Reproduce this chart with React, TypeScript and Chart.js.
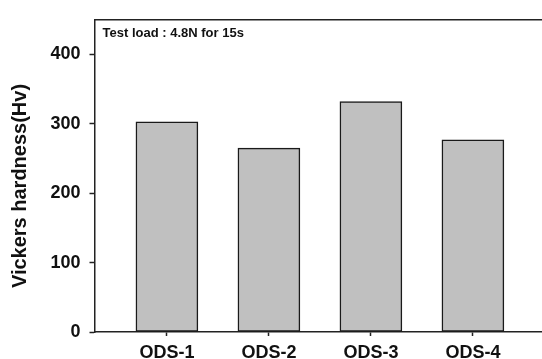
import React, { useEffect, useRef } from "react";
import { Chart, registerables } from "chart.js";

Chart.register(...registerables);

const categories = ["ODS-1", "ODS-2", "ODS-3", "ODS-4"];
const hardness = [303, 265, 332, 277];
const yTicks = [0, 100, 200, 300, 400];
const yTitle = "Vickers hardness(Hv)";
const note = "Test load : 4.8N for 15s";

const FONT = "'Liberation Sans', Arial, sans-serif";

const decorPlugin = {
  id: "decor",
  afterDraw(chart: any) {
    const { ctx, chartArea } = chart;
    ctx.save();
    ctx.strokeStyle = "#222";
    ctx.lineWidth = 1.5;
    ctx.beginPath();
    ctx.moveTo(chartArea.left, chartArea.top);
    ctx.lineTo(chartArea.right, chartArea.top);
    ctx.stroke();
    ctx.fillStyle = "#111";
    ctx.font = `bold 13px ${FONT}`;
    ctx.textAlign = "left";
    ctx.textBaseline = "alphabetic";
    ctx.fillText(note, chartArea.left + 8, chartArea.top + 17.5);
    ctx.translate(20, 186);
    ctx.rotate(-Math.PI / 2);
    ctx.font = `bold 20px ${FONT}`;
    ctx.textAlign = "center";
    ctx.textBaseline = "middle";
    ctx.fillText(yTitle, 0, 0);
    ctx.restore();
  },
};

export default function App() {
  const ref = useRef<HTMLCanvasElement | null>(null);
  useEffect(() => {
    document.body.style.overflow = "hidden";
    const chart = new Chart(ref.current as HTMLCanvasElement, {
      type: "bar",
      data: {
        datasets: [
          {
            data: categories.map((c, i) => ({ x: i + 1, y: hardness[i] })),
            backgroundColor: "#c0c0c0",
            borderColor: "#1a1a1a",
            borderWidth: 1.5,
            borderSkipped: false,
            barThickness: 62,
          },
        ],
      },
      options: {
        animation: false,
        responsive: true,
        maintainAspectRatio: false,
        layout: { padding: { top: 14.5, left: 0, right: 0, bottom: 0 } },
        plugins: { legend: { display: false }, tooltip: { enabled: false } },
        scales: {
          x: {
            type: "linear",
            offset: false,
            min: 0.29,
            max: 5.05,
            afterBuildTicks: (s: any) => {
              s.ticks = categories.map((_, i) => ({ value: i + 1 }));
            },
            afterFit: (s: any) => {
              s.height = 27;
            },
            grid: {
              offset: false,
              drawOnChartArea: false,
              drawTicks: true,
              tickLength: 4,
              tickColor: "#222",
              tickWidth: 1.5,
            },
            border: { display: true, color: "#222", width: 1.5 },
            ticks: {
              autoSkip: false,
              maxRotation: 0,
              padding: 6.5,
              color: "#111",
              font: { family: FONT, size: 18, weight: "bold" },
              callback: (v: any) => categories[Number(v) - 1] ?? "",
            },
          },
          y: {
            min: 0,
            max: 450,
            afterBuildTicks: (s: any) => {
              s.ticks = yTicks.map((v) => ({ value: v }));
            },
            afterFit: (s: any) => {
              s.width = 94.5;
            },
            grid: {
              drawOnChartArea: false,
              drawTicks: true,
              tickLength: 5,
              tickColor: "#222",
              tickWidth: 1.5,
            },
            border: { display: true, color: "#222", width: 1.5 },
            ticks: {
              padding: 9,
              color: "#111",
              font: { family: FONT, size: 18, weight: "bold" },
            },
          },
        },
      },
      plugins: [decorPlugin],
    } as any);
    return () => chart.destroy();
  }, []);
  return (
    <div style={{ position: "absolute", left: 0, top: 0, width: 580, height: 359 }}>
      <canvas ref={ref} />
    </div>
  );
}
